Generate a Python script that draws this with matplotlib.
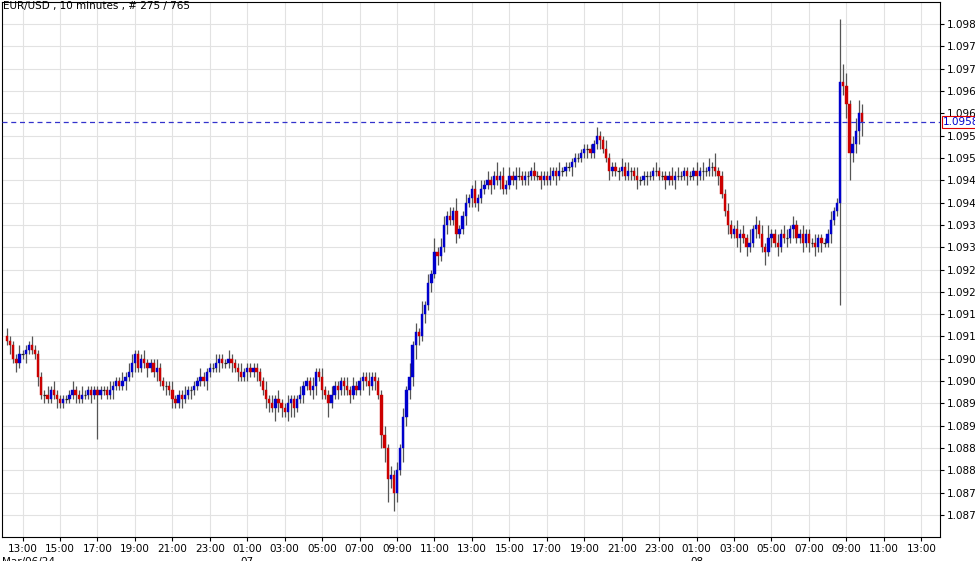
import matplotlib
matplotlib.use("Agg")
import matplotlib.pyplot as plt
from matplotlib.ticker import FixedLocator, FuncFormatter

# closes in pips above 1.0900
closes_pips = [
 9,8,5,4,6,6,7,8,7,6,
 1,-3,-3,-4,-2,-3,-4,-5,-4,-4,
 -3,-2,-3,-4,-3,-3,-2,-3,-2,-3,
 -2,-2,-3,-2,-1,0,-1,0,1,2,
 4,6,3,5,4,3,4,2,3,0,
 -1,-1,-2,-4,-5,-3,-4,-3,-2,-2,
 -1,0,1,0,2,3,3,4,5,4,
 4,5,4,3,2,1,2,3,2,3,
 2,0,-2,-4,-5,-6,-4,-5,-6,-7,
 -5,-4,-6,-4,-3,-1,0,-2,-1,2,
 1,-2,-3,-5,-3,-1,-2,0,-1,-2,
 -3,-1,-2,0,1,0,-1,1,0,-3,
 -12,-15,-22,-21,-25,-20,-15,-8,-2,1,
 8,11,10,15,17,22,24,29,28,30,
 35,37,36,38,33,34,37,40,41,43,
 40,41,43,44,45,44,46,45,46,43,
 44,46,45,46,46,45,46,46,47,46,
 46,45,46,45,46,47,46,47,47,48,
 48,49,50,50,51,52,52,51,53,55,
 54,52,50,47,48,47,47,48,46,47,
 47,46,45,45,46,46,46,47,47,46,
 46,45,46,45,46,46,46,47,46,46,
 47,46,47,47,47,48,48,47,46,42,
 38,35,33,34,32,33,32,30,31,34,
 35,33,30,29,32,33,31,30,33,32,
 32,34,35,32,33,31,33,31,31,30,
 32,31,31,33,36,38,40,67,66,62,
 51,53,56,60,58]
first_open_pips = 10
wick_up = [
 2,1,1,1,2,1,1,1,2,1, 1,1,1,2,1,2,1,1,1,1, 1,2,1,1,2,1,1,1,1,1, 1,1,1,2,1,1,1,2,1,2,
 2,1,1,1,2,1,1,1,2,1, 1,1,1,2,1,1,1,2,1,1, 1,1,2,1,1,1,1,2,1,1, 1,2,1,1,1,2,1,1,1,1,
 1,1,1,2,1,2,1,2,1,1, 2,1,1,1,2,1,1,1,2,1, 1,2,1,1,2,1,1,1,1,2, 1,2,1,1,1,1,2,1,1,1,
 1,2,1,2,1,2,1,2,1,3, 1,2,1,3,1,2,1,3,1,2, 2,1,2,1,3,1,1,2,1,1, 2,1,2,1,2,1,1,3,1,2,
 1,2,1,2,2,1,1,1,1,2, 1,1,1,1,2,1,1,2,1,1, 1,1,1,1,1,1,1,1,1,2, 1,1,2,1,1,1,1,2,1,2,
 1,1,2,1,1,1,1,1,2,1, 1,1,1,2,1,2,1,1,1,1, 1,2,1,2,1,2,1,3,1,1, 1,2,1,1,2,1,2,1,3,1,
 2,1,2,1,3,1,1,2,1,2, 2,1,2,1,1,2,1,1,1,2, 1,1,1,1,2,1,1,14,4,3,
 1,2,3,3,2]
wick_dn = [
 1,2,1,2,1,1,2,1,1,1, 2,1,2,1,1,1,2,1,1,1, 1,1,2,1,1,1,1,2,1,10, 1,1,1,1,2,1,1,1,2,1,
 1,2,1,1,1,2,1,1,2,1, 1,2,1,2,1,1,2,1,1,2, 1,1,1,1,2,1,1,1,2,1, 1,1,2,1,2,1,1,2,1,1,
 2,1,1,2,2,1,3,2,2,1, 2,3,2,1,1,2,1,1,2,2, 1,2,1,3,1,1,2,1,2,1, 2,1,1,1,2,1,2,1,2,1,
 3,3,5,2,4,2,1,3,2,2, 2,3,2,1,2,1,2,1,2,1, 1,2,1,1,2,1,1,2,1,2, 1,2,1,1,1,2,1,1,2,1,
 1,1,1,2,1,1,1,2,1,1, 1,2,1,1,1,1,2,1,1,1, 1,2,1,1,1,1,2,1,1,1, 2,1,1,2,1,1,2,1,1,1,
 2,1,2,1,1,2,1,1,1,1, 1,2,1,1,2,1,1,1,2,1, 1,2,1,2,1,1,2,1,2,1, 1,2,1,1,2,3,1,2,1,1,
 2,1,1,3,1,2,1,2,1,1,
 2,1,2,1,1,2,1,2,1,2, 1,2,1,1,2,1,1,23,2,3, 6,2,2,3,3]

time_labels = ["13:00","15:00","17:00","19:00","21:00","23:00","01:00","03:00","05:00",
               "07:00","09:00","11:00","13:00","15:00","17:00","19:00","21:00","23:00",
               "01:00","03:00","05:00","07:00","09:00","11:00","13:00"]
date_labels = ["Mar/06/24", "07", "08"]
last_price = 1.0958
title = "EUR/USD , 10 minutes , # 275 / 765"

fig = plt.figure(figsize=(9.75, 5.61), dpi=100)
ax = fig.add_axes([2/975, 24/561, 938/975, 535/561])
base = 1.09
n = len(closes_pips)
prev = first_open_pips
for i in range(n):
    o = prev; c = closes_pips[i]
    hi = max(o, c) + wick_up[i]; lo = min(o, c) - wick_dn[i]
    ax.vlines(i, base + lo/1e4, base + hi/1e4, color="#555555", lw=0.9, zorder=2)
    col = "#0000cc" if c >= o else "#cc0000"
    h = (c - o)/1e4
    if abs(h) < 0.00003:
        ax.hlines(base + o/1e4, i-0.4, i+0.4, color="#222222", lw=0.9, zorder=3)
    else:
        ax.bar(i, h, bottom=base + o/1e4, width=0.75, color=col, edgecolor=col, lw=0.3, zorder=3)
    prev = c

ax.set_xlim(-1.6, 299)
ax.set_ylim(1.08651, 1.09849)
ax.yaxis.tick_right()
yt = [1.0870 + 0.0005*k for k in range(23)]
ax.yaxis.set_major_locator(FixedLocator(yt))
ax.yaxis.set_major_formatter(FuncFormatter(lambda v, p: f"{v:.4f}"))
xt = [5 + 12*k for k in range(len(time_labels))]
ax.set_xticks(xt)
ax.set_xticklabels(time_labels)
ax.tick_params(labelsize=7.5, length=3, color="#000000", pad=2)
ax.grid(True, color="#e2e2e2", lw=0.8, zorder=0)
for s in ax.spines.values():
    s.set_color("#000000"); s.set_linewidth(0.8)
ax.axhline(last_price, color="#3333cc", ls=(0, (4, 3)), lw=0.9, zorder=4)
ax.text(1.003, last_price, f"{last_price:.4f}", transform=ax.get_yaxis_transform(),
        va="center", ha="left", fontsize=7.5, color="#0000cc",
        bbox=dict(boxstyle="square,pad=0.1", fc="white", ec="#dd0000", lw=0.8))
for xi, lab in zip([-1.6, 77, 221], date_labels):
    ax.text(xi, -0.038, lab, transform=ax.get_xaxis_transform(),
            ha="left" if lab == date_labels[0] else "center", va="top", fontsize=7.5)
fig.text(3/975, 1 - 1/561, title, ha="left", va="top", fontsize=7.5)
fig.savefig("out.png", dpi=100)
